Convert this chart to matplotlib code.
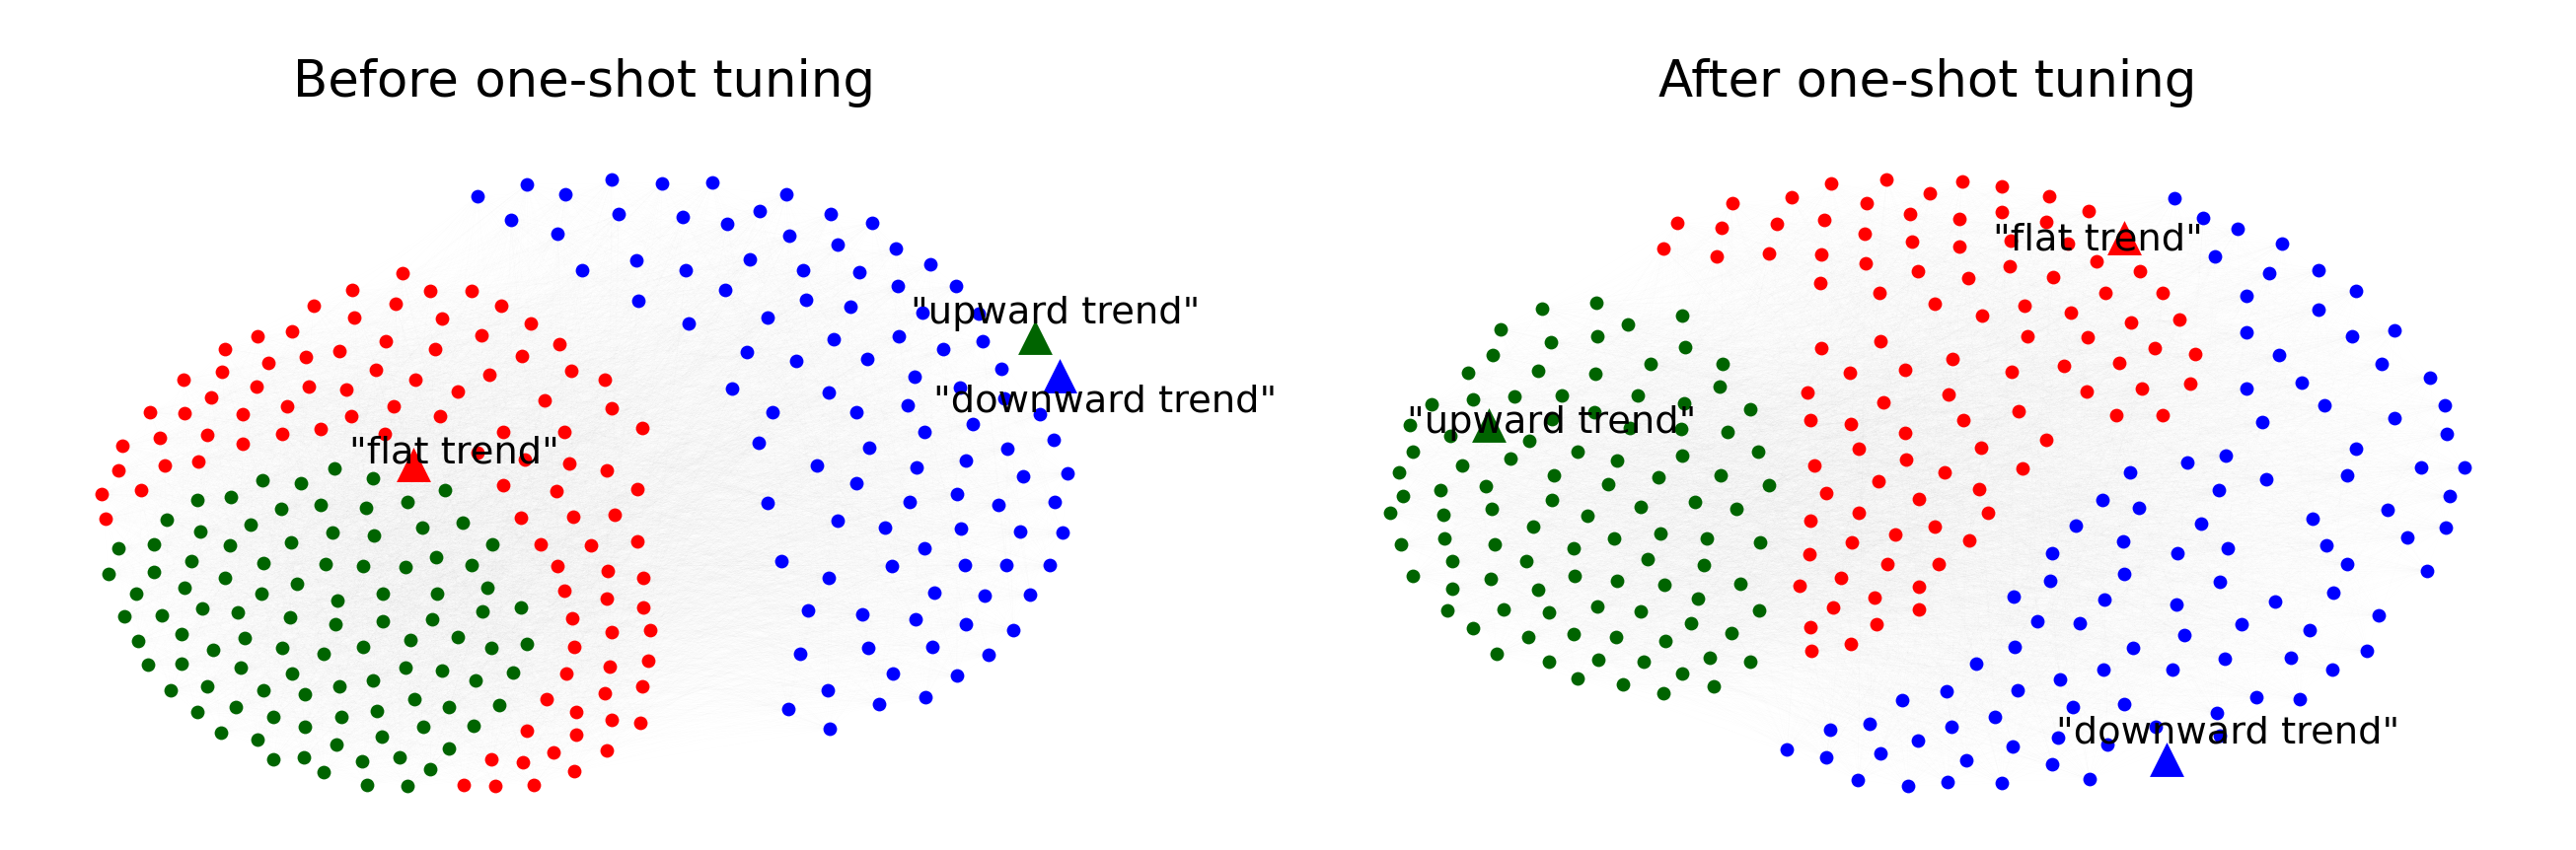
import numpy as np
import matplotlib
matplotlib.use("Agg")
import matplotlib.pyplot as plt
from matplotlib.collections import LineCollection

# Node positions, in reference-image units, grouped by
# the crop they were read from (crop left, crop top, x scale, y scale).
C1 = (60, 240, 2.529, 3)
C2 = (60, 520, 2.529, 3)
C3 = (440, 160, 2.306, 3)
C4 = (640, 440, 3, 3)
C5 = (1400, 290, 3, 3)
C6 = (1660, 160, 2.703, 3)
C7 = (1780, 440, 3, 3)
C8 = (2180, 180, 3, 3)
C9 = (1980, 440, 2.904, 3)
C10 = (1780, 620, 3, 3)

before_red_a = [(879,112),(752,163),(951,165),(1058,165),(653,209),(862,205),(1134,209),(757,246),(982,249),(1208,265),
    (598,288),(509,302),(1083,299),(838,318),(425,341),(1281,327),(964,341),(719,348),(1187,364),(631,367),(537,385),
    (811,406),(417,412),(1313,408),(1103,420),(1399,436),(914,436),(318,436),(507,457),(640,457),(737,464),(1021,470),
    (390,489),(1245,498),(583,517),(858,517),(1415,521),(232,533),(320,538),(470,540),(749,547),(977,547),(1494,581),
    (671,584),(834,600),(1138,593),(1294,595),(571,600),(258,612),(379,602),(470,630),(163,637),(1073,656),(1194,677),
    (270,695),(357,684),(153,711),(1307,690),(1403,711),(211,771),(108,783),(1138,755),(1274,773),(1483,767),(120,857),
    (1184,855),(1317,852),(1425,845)]
before_red_b = [(1233,97),(1362,100),(1481,88),(1278,162),(1405,176),(1498,197),(1294,236),(1403,262),(1498,287),(1315,320),
    (1417,363),(1514,358),(1321,407),(1510,449),(1410,467),(1301,490),(1494,527),(1399,550),(1249,567),(1325,606),
    (1415,629),(1489,638),(1200,664),(1325,676),(1403,724),(1266,729),(1107,749),(1188,759),(1319,786),(1037,828),
    (1119,830),(1216,828)]
before_green_a = [(706,706),(521,741),(620,750),(805,734),(988,771),(441,792),(355,801),(569,829),(669,817),(786,824),(893,808)]
before_green_b = [(275,21),(491,37),(361,58),(930,44),(1035,31),(700,61),(807,70),(153,108),(244,95),(437,100),(595,91),(1109,97),
    (340,146),(523,153),(682,155),(780,162),(887,165),(967,134),(1056,160),(127,185),(244,181),(426,197),(610,215),
    (196,245),(320,229),(519,245),(830,245),(969,245),(1097,229),(713,266),(1183,287),(166,315),(262,313),(367,292),
    (459,303),(591,317),(708,338),(830,331),(955,324),(1084,301),(202,391),(314,370),(476,381),(1021,377),(901,386),
    (394,418),(571,412),(678,430),(778,409),(1107,412),(1200,400),(227,462),(314,460),(466,472),(887,472),(981,479),
    (597,488),(1163,486),(1068,509),(803,511),(287,541),(379,527),(523,541),(630,552),(718,529),(910,567),(1000,592),
    (1128,585),(353,606),(453,590),(548,620),(723,620),(815,604),(630,652),(932,650),(1062,648),(416,668),(509,689),
    (826,680),(711,705),(998,717),(550,749),(628,744),(776,756),(873,744),(679,789),(951,779),(790,828),(893,832)]
before_blue_a = [(101,117),(217,80),(306,110),(415,66),(533,77),(650,75),(823,112),(179,190),(431,172),(582,179),(762,162),
    (685,200),(928,170),(1024,197),(289,232),(830,237),(944,265),(1079,276),(737,309),(1159,325),(472,313),(588,341),
    (346,343),(863,341),(994,348),(1083,391),(1221,389),(680,403),(477,435),(870,431),(973,454),(1142,470),(1274,473),
    (779,487),(595,505),(935,551),(1086,544),(1283,558),(1191,583),(730,590),(847,618),(1012,613),(1326,641),(1124,667),
    (696,701),(923,713),(1230,700),(1334,732),(1108,754),(987,773),(792,773),(1417,780),(1260,810),(1145,835),(1449,858),
    (758,868),(1016,882),(1339,884)]
before_blue_b = [(564,95),(867,102),(1017,81),(1192,129),(1325,120),(684,150),(414,210),(846,206),(991,182),(1116,215),(1287,206),
    (626,264),(772,285),(1003,289),(1183,296),(1310,300),(892,347),(455,388),(793,402),(1014,398),(1139,398),(1273,400),
    (601,437),(920,483),(1075,492),(1213,490),(536,536),(703,548),(864,564),(1017,580),(1162,596),(513,668),(721,652),
    (915,649),(1086,673),(795,728),(989,735),(598,781),(476,837),(753,821),(894,802),(603,897)]

after_green_a = [(490,68),(654,52),(915,89),(751,117),(363,131),(515,172),(656,152),(925,187),(340,210),(818,237),(1038,236),
    (264,265),(476,258),(652,267),(1028,307),(404,337),(280,344),(548,332),(779,332),(921,356),(152,359),(1121,376),
    (649,385),(520,406),(86,424),(209,455),(757,432),(911,434),(1054,443),(451,470),(95,503),(596,505),(393,526),(716,531),
    (915,515),(1146,505),(247,545),(54,568),(525,577),(842,581),(1033,577),(691,604),(319,609),(180,621),(1179,607),(66,640),
    (518,651),(955,656),(1079,677),(336,679),(28,690),(190,695),(790,672),(626,700),(463,732),(850,753),(192,767),(707,769),
    (989,767),(60,787),(344,786),(585,799),(1151,781),(811,831),(215,836),(442,838),(980,850),(97,882),(589,882),(333,891),
    (716,898),(862,908),(1091,905),(215,921),(478,924),(964,952),(656,974),(201,986),(372,984),(511,993),(790,990),(1149,986),
    (280,1040),(943,1025),(446,1067),(585,1060),(714,1069),(864,1080),(1065,1057),(352,1118),(661,1138),(799,1143),(998,1130),
    (511,1143),(1123,1143),(915,1178),(596,1194),(735,1213),(1012,1217),(857,1238)]
after_red_a = [(682,65),(530,79),(888,72),(998,86),(422,119),(801,107),(1126,116),(259,137),(626,137),(998,165),(1234,162),
    (107,199),(747,172),(882,186),(1119,195),(231,213),(382,202),(511,188),(622,232),(69,276),(751,255),(882,271),(1022,253),
    (1178,262),(215,301),(359,292),(503,294),(1256,315),(624,320),(1019,331),(769,345),(1377,345),(905,366),(1138,364),(499,380),
    (661,412),(1281,410),(1439,412),(814,445),(1059,449),(942,479),(1186,472),(1352,500),(1483,493),(1067,544),(1232,546),
    (665,558),(503,579),(1417,579),(1526,598),(863,611),(1319,623),(582,655),(732,646),(1024,651),(1167,632),(466,713),(1229,711),
    (1381,703),(1513,688),(851,720),(674,743),(1044,771),(1310,783),(1439,783),(474,799),(892,799),(584,810),(732,838),(1119,858),
    (606,885),(940,881)]
after_red_b = [(457,78),(177,97),(810,104),(572,118),(373,143),(678,169),(212,180),(496,199),(313,240),(704,240),(165,265),(542,282),
    (424,305),(290,330),(648,325),(161,365),(399,395),(554,395),(258,437),(133,462),(494,464),(360,497),(233,527),(494,534),
    (367,580),(165,587),(288,640),(168,661)]
after_blue_a = [(72,63),(160,123),(264,155),(195,239),(400,200),(359,290),(509,281),(624,345),(290,359),(511,401),(740,465),(292,472),
    (611,482),(389,540),(701,567),(848,608),(458,625),(292,643),(528,694),(893,694),(740,732),(340,745),(899,780)]
after_blue_b = [(1185,46),(801,65),(689,88),(521,116),(1376,101),(1505,103),(1158,127),(921,139),(780,171),(438,201),(545,224),(1460,189),
    (1279,231),(1058,259),(729,272),(360,280),(499,326),(1449,285),(1335,314),(1098,338),(658,363),(807,347),(291,363),(1158,395),
    (1393,416),(501,425),(284,446),(783,451),(177,494),(445,504),(1118,483),(655,520),(946,511),(248,571),(373,577),(849,580),
    (1252,552),(680,612),(1047,598),(179,647),(528,652),(1218,661),(798,684),(993,680),(67,698),(440,718),(644,718),(1116,717),
    (313,746),(190,781),(892,802),(1020,808),(351,832),(501,823),(774,848),(123,862),(595,890),(308,925),(785,918),(175,950),
    (454,946),(38,994),(291,1005),(400,1051),(141,1063)]
after_blue_c = [(579,244),(443,271),(346,341),(226,361),(595,350),(493,394),(94,421),(214,445),(378,433),(310,512),(461,532),(581,518)]

panel_titles = ["Before one-shot tuning", "After one-shot tuning"]
trend_labels = ['"flat trend"', '"upward trend"', '"downward trend"']
colors = ["red", "darkgreen", "blue"]
# anchor triangle (x, y) and label (left, baseline) per panel, same order as trend_labels
before_anchor = [(419, 470.5), (1049, 341.5), (1073.5, 381)]
before_label = [(354, 470), (923, 328), (946, 418)]
after_anchor = [(2153, 240.5), (1509, 431), (2196, 769.5)]
after_label = [(2020, 254), (1426, 439), (2084, 753)]


def read(points, crop):
    x0, y0, sx, sy = crop
    arr = np.asarray(points, dtype=float)
    return np.column_stack([x0 + arr[:, 0] / sx, y0 + arr[:, 1] / sy])


before_nodes = {
    "red": np.vstack([read(before_red_a, C1), read(before_red_b, C2)]),
    "darkgreen": np.vstack([read(before_green_a, C1), read(before_green_b, C2)]),
    "blue": np.vstack([read(before_blue_a, C3), read(before_blue_b, C4)]),
}
after_nodes = {
    "red": np.vstack([read(after_red_a, C6), read(after_red_b, C7)]),
    "darkgreen": read(after_green_a, C5),
    "blue": np.vstack([read(after_blue_a, C8), read(after_blue_b, C9), read(after_blue_c, C10)]),
}

W, H = 2611, 862
fig = plt.figure(figsize=(W / 300, H / 300), dpi=300)
ax = fig.add_axes([0, 0, 1, 1])
ax.set_xlim(0, W)
ax.set_ylim(H, 0)
ax.axis("off")


def draw_panel(nodes, anchors, labels, title, title_x):
    allpts = np.vstack(list(nodes.values()))
    i, j = np.triu_indices(len(allpts), k=1)
    keep = (i + j) % 5 == 0
    segs = np.stack([allpts[i[keep]], allpts[j[keep]]], axis=1)
    ax.add_collection(LineCollection(segs, colors="#b0b0b0", linewidths=0.1, alpha=0.008, zorder=1))
    for c, pts in nodes.items():
        ax.scatter(pts[:, 0], pts[:, 1], s=11, c=c, linewidths=0, zorder=2)
    for c, (ax_x, ax_y), (lx, ly), txt in zip(colors, anchors, labels, trend_labels):
        ax.scatter([ax_x], [ax_y], s=70, c=c, marker="^", linewidths=0, zorder=3)
        ax.text(lx, ly, txt, fontsize=9.22, ha="left", va="baseline", color="black", zorder=4)
    ax.text(title_x, 98, title, fontsize=12.35, ha="center", va="baseline", color="black")


draw_panel(before_nodes, before_anchor, before_label, panel_titles[0], 592)
draw_panel(after_nodes, after_anchor, after_label, panel_titles[1], 1954)

fig.savefig("out.png", dpi=300, facecolor="white")
